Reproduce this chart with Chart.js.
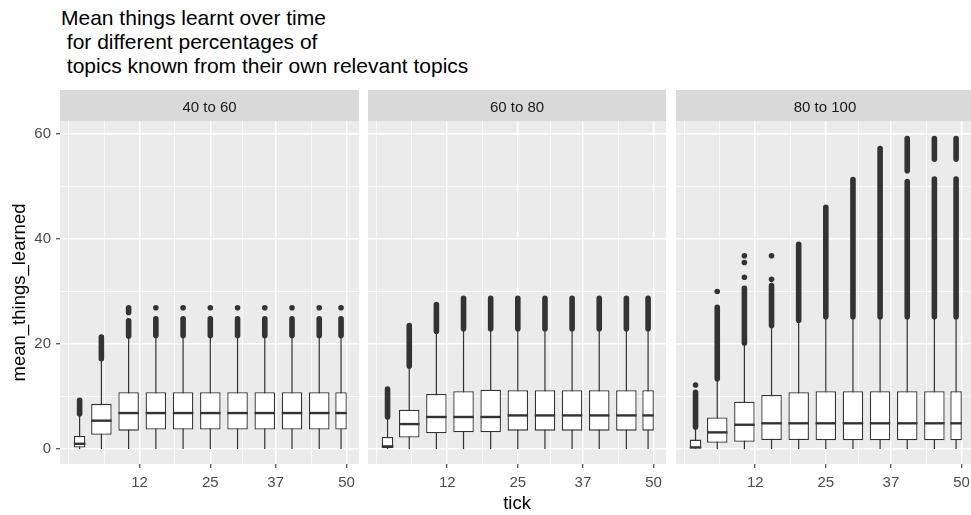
<!DOCTYPE html>
<html>
<head>
<meta charset="utf-8">
<title>Mean things learnt over time</title>
<script src="https://cdn.jsdelivr.net/npm/chart.js@4.4.1/dist/chart.umd.min.js"></script>
<style>
  html, body { margin: 0; padding: 0; background: #fff; overflow: hidden; }
  body { width: 971px; height: 515px; position: relative; }
  #title {
    position: absolute; left: 61px; top: 6px;
    font: 21px/24px "Liberation Sans", Arial, sans-serif;
    color: #000; white-space: pre;
  }
  .panel { position: absolute; top: 90px; }
</style>
</head>
<body>
<div id="title">Mean things learnt over time
 for different percentages of
 topics known from their own relevant topics</div>
<canvas id="p1" class="panel" width="359" height="425" style="left:0px"></canvas>
<canvas id="p2" class="panel" width="298" height="425" style="left:368px"></canvas>
<canvas id="p3" class="panel" width="298" height="425" style="left:676px"></canvas>
<script>
/* ---------------------------------------------------------
   data
--------------------------------------------------------- */
var TICK_GROUPS = [1, 5, 10, 15, 20, 25, 30, 35, 40, 45, 49];
var X_MAJOR = [12, 25, 37, 50];
var X_MINOR = [-1, 5.5, 18.5, 31, 43.5];
var Y_MAJOR = [0, 20, 40, 60];
var Y_MINOR = [10, 30, 50];
var FACETS = ['40 to 60', '60 to 80', '80 to 100'];

// 40 to 60
var p1Low    = [0, 0, 0, 0, 0, 0, 0, 0, 0, 0, 0];
var p1Q1     = [0.3, 2.7, 3.5, 3.7, 3.7, 3.7, 3.7, 3.7, 3.7, 3.7, 3.7];
var p1Median = [1.0, 5.4, 6.85, 6.85, 6.85, 6.85, 6.85, 6.85, 6.85, 6.85, 6.85];
var p1Q3     = [2.5, 8.6, 10.8, 10.8, 10.8, 10.8, 10.8, 10.8, 10.8, 10.8, 10.8];
var p1High   = [6.4, 17.0, 21.3, 21.4, 21.4, 21.4, 21.4, 21.4, 21.4, 21.4, 21.4];
var p1Runs   = [[[6.7, 9.3]], [[17.2, 21.3]], [[21.5, 24.4], [26.0, 26.9]],
                [[21.6, 24.8]], [[21.6, 24.8]], [[21.6, 24.8]], [[21.6, 24.8]],
                [[21.6, 24.8]], [[21.6, 24.8]], [[21.6, 24.8]], [[21.6, 24.8]]];
var p1Dots   = [[], [], [], [26.9], [26.9], [26.9], [26.9], [26.9], [26.9], [26.9], [26.9]];

// 60 to 80
var p2Low    = [0, 0, 0, 0, 0, 0, 0, 0, 0, 0, 0];
var p2Q1     = [0, 2.2, 3.0, 3.2, 3.2, 3.5, 3.5, 3.5, 3.5, 3.5, 3.5];
var p2Median = [0.5, 4.75, 6.1, 6.1, 6.1, 6.4, 6.4, 6.4, 6.4, 6.4, 6.4];
var p2Q3     = [2.3, 7.5, 10.5, 11.0, 11.3, 11.2, 11.2, 11.2, 11.2, 11.2, 11.2];
var p2High   = [5.8, 15.5, 22.1, 22.6, 22.6, 22.6, 22.6, 22.6, 22.6, 22.6, 22.6];
var p2Runs   = [[[6.1, 11.4]], [[15.8, 23.5]], [[22.4, 27.5]],
                [[22.9, 28.7]], [[22.9, 28.7]], [[22.9, 28.7]], [[22.9, 28.7]],
                [[22.9, 28.7]], [[22.9, 28.7]], [[22.9, 28.7]], [[22.9, 28.7]]];
var p2Dots   = [[], [], [], [], [], [], [], [], [], [], []];

// 80 to 100
var p3Low    = [0, 0, 0, 0, 0, 0, 0, 0, 0, 0, 0];
var p3Q1     = [0, 1.2, 1.4, 1.7, 1.7, 1.65, 1.65, 1.65, 1.65, 1.65, 1.65];
var p3Median = [0.3, 3.17, 4.62, 4.9, 4.9, 4.9, 4.9, 4.9, 4.9, 4.9, 4.9];
var p3Q3     = [1.8, 6.0, 9.0, 10.3, 10.8, 11.0, 11.0, 11.0, 11.0, 11.0, 11.0];
var p3High   = [3.9, 13.2, 19.9, 23.2, 24.2, 24.9, 24.9, 24.9, 24.9, 24.9, 24.9];
var p3Runs   = [[[4.2, 10.8]], [[13.4, 27.0]], [[20.2, 30.6]], [[23.5, 31.1]],
                [[24.5, 39.0]], [[25.2, 46.0]], [[25.2, 51.3]], [[25.2, 57.2]],
                [[25.2, 50.9], [53.0, 59.1]], [[25.2, 51.4], [55.2, 59.1]],
                [[25.2, 51.4], [55.2, 59.1]]];
var p3Dots   = [[12.2], [30.0], [36.8, 35.5, 32.7], [36.8, 32.3], [], [], [], [], [], [], []];

/* ---------------------------------------------------------
   look
--------------------------------------------------------- */
var COLORS = {
  ink: '#333333',
  panel: '#EBEBEB',
  strip: '#D9D9D9',
  grid: '#FFFFFF',
  tickText: '#4D4D4D',
  none: 'rgba(0,0,0,0)'
};

Chart.defaults.font.family = "'Liberation Sans', Arial, sans-serif";
Chart.defaults.animation = false;

// grey panel + facet strip behind everything
var facetBackground = {
  id: 'facetBackground',
  beforeDraw: function (chart) {
    var a = chart.chartArea;
    var ctx = chart.ctx;
    ctx.save();
    ctx.fillStyle = COLORS.strip;
    ctx.fillRect(a.left, 0, a.right - a.left, a.top);
    ctx.fillStyle = COLORS.panel;
    ctx.fillRect(a.left, a.top, a.right - a.left, a.bottom - a.top);
    ctx.restore();
  }
};

function has(arr, v) { return arr.indexOf(v) !== -1; }

function tickList(major, minor) {
  return major.concat(minor).sort(function (a, b) { return a - b; })
    .map(function (v) { return { value: v }; });
}

function gridWidth(major) {
  return function (ctx) { return ctx.tick && has(major, ctx.tick.value) ? 1.5 : 0.75; };
}
function tickColor(major) {
  return function (ctx) { return ctx.tick && has(major, ctx.tick.value) ? COLORS.ink : COLORS.none; };
}

/* ---------------------------------------------------------
   one facet
--------------------------------------------------------- */
function buildPanel(canvasId, facet, low, q1, median, q3, high, runs, dots, showY, showXTitle) {
  var last = TICK_GROUPS.length - 1;
  var whiskers = [], runPts = [], dotPts = [], wide = [], narrow = [], meds = [];

  TICK_GROUPS.forEach(function (x, i) {
    whiskers.push({ x: x, y: low[i] }, { x: x, y: high[i] }, { x: x, y: null });
    runs[i].forEach(function (r) {
      runPts.push({ x: x, y: r[0] }, { x: x, y: r[1] }, { x: x, y: null });
    });
    dots[i].forEach(function (d) { dotPts.push({ x: x, y: d }); });
    var box = { x: x, y: [q1[i], q3[i]] };
    if (i === 0 || i === last) narrow.push(box); else wide.push(box);
    meds.push({ x: x, y: median[i] });
  });

  var boxStyle = {
    type: 'bar', grouped: false, backgroundColor: '#FFFFFF', borderColor: COLORS.ink,
    borderWidth: 1.3, borderSkipped: false, inflateAmount: 0, order: 2
  };

  return new Chart(document.getElementById(canvasId), {
    type: 'scatter',
    data: {
      datasets: [
        { type: 'line', data: whiskers, borderColor: COLORS.ink, borderWidth: 1.2,
          pointRadius: 0, spanGaps: false, order: 4 },
        { type: 'line', data: runPts, borderColor: COLORS.ink, borderWidth: 5.6,
          borderCapStyle: 'round', pointRadius: 0, spanGaps: false, order: 3 },
        { type: 'scatter', data: dotPts, pointRadius: 2.8, pointBackgroundColor: COLORS.ink,
          pointBorderWidth: 0, order: 3 },
        Object.assign({ data: wide, barThickness: 20.5 }, boxStyle),
        Object.assign({ data: narrow, barThickness: 11.5 }, boxStyle),
        { type: 'scatter', data: meds, pointStyle: 'line', borderColor: COLORS.ink,
          pointBorderWidth: 2.4,
          pointRadius: function (ctx) { return (ctx.dataIndex === 0 || ctx.dataIndex === last) ? 5.75 : 10.25; },
          order: 1 }
      ]
    },
    options: {
      responsive: false,
      layout: { padding: 0, autoPadding: false },
      plugins: {
        legend: { display: false },
        tooltip: { enabled: false },
        title: {
          display: true, text: facet, fullSize: false, color: '#1A1A1A',
          font: { size: 15, weight: 'normal' }, padding: { top: 9, bottom: 4 }
        }
      },
      scales: {
        x: {
          type: 'linear', min: -2.6, max: 52.3, bounds: 'data', offset: false,
          afterBuildTicks: function (sc) { sc.ticks = tickList(X_MAJOR, X_MINOR); },
          afterFit: function (sc) { sc.height = 51; sc.paddingLeft = 0; sc.paddingRight = 0; },
          border: { display: false },
          grid: {
            color: COLORS.grid, lineWidth: gridWidth(X_MAJOR), offset: false,
            drawTicks: true, tickLength: 4, tickWidth: 1.1, tickColor: tickColor(X_MAJOR)
          },
          ticks: {
            autoSkip: false, maxRotation: 0, padding: 6, color: COLORS.tickText,
            font: { size: 15 },
            callback: function (v) { return has(X_MAJOR, v) ? String(v) : ''; }
          },
          title: {
            display: showXTitle, text: 'tick', color: '#000000',
            font: { size: 18.5 }, padding: { top: 0, bottom: 0 }
          }
        },
        y: {
          type: 'linear', min: -2.85, max: 62.45, bounds: 'data',
          afterBuildTicks: function (sc) { sc.ticks = tickList(Y_MAJOR, Y_MINOR); },
          afterFit: function (sc) { sc.width = showY ? 60 : 0; sc.paddingTop = 0; sc.paddingBottom = 0; },
          border: { display: false },
          grid: {
            color: COLORS.grid, lineWidth: gridWidth(Y_MAJOR),
            drawTicks: showY, tickLength: 4, tickWidth: 1.1, tickColor: tickColor(Y_MAJOR)
          },
          ticks: {
            display: showY, padding: 5, color: COLORS.tickText, font: { size: 15 },
            callback: function (v) { return has(Y_MAJOR, v) ? String(v) : ''; }
          },
          title: {
            display: showY, text: 'mean_things_learned', color: '#000000',
            font: { size: 18.5 }, padding: { top: 9, bottom: 0 }
          }
        }
      }
    },
    plugins: [facetBackground]
  });
}

buildPanel('p1', FACETS[0], p1Low, p1Q1, p1Median, p1Q3, p1High, p1Runs, p1Dots, true, false);
buildPanel('p2', FACETS[1], p2Low, p2Q1, p2Median, p2Q3, p2High, p2Runs, p2Dots, false, true);
buildPanel('p3', FACETS[2], p3Low, p3Q1, p3Median, p3Q3, p3High, p3Runs, p3Dots, false, false);
</script>
</body>
</html>
